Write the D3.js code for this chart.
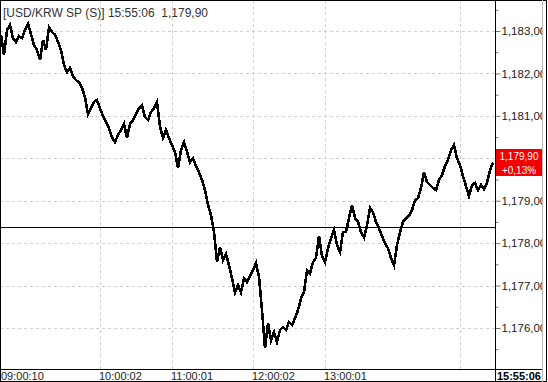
<!DOCTYPE html>
<html>
<head>
<meta charset="utf-8">
<script src="https://cdn.jsdelivr.net/npm/d3@7"></script>
<style>
  html, body { margin: 0; padding: 0; background: #fff; }
  text { font-family: "Liberation Sans", Arial, sans-serif; }
</style>
</head>
<body>
<div id="container"></div>
<script>
// chart data
symbol = "[USD/KRW SP (S)]";
lastTime = "15:55:06";
lastPrice = 1179.9;
prevClose = 1178.37;

priceTicks = [1176, 1177, 1178, 1179, 1180, 1181, 1182, 1183];
timeTickIndex = [0, 33, 57, 84, 108, 153];
timeTickLabels = ["09:00:10", "10:00:02", "11:00:01", "12:00:02", "13:00:01", ""];

prices = [
  1182.91, 1182.43, 1183.02, 1183.14, 1182.83, 1182.74, 1182.88, 1182.83, 1183.02, 1183.17,
  1182.93, 1182.67, 1182.55, 1182.32, 1182.79, 1182.55, 1183.09, 1182.98, 1182.91, 1182.74,
  1182.55, 1182.20, 1182.03, 1182.13, 1181.94, 1181.84, 1181.80, 1181.66, 1181.44, 1181.04,
  1181.18, 1181.33, 1181.37, 1181.18, 1181.00, 1180.85, 1180.71, 1180.50, 1180.38, 1180.55,
  1180.67, 1180.81, 1180.48, 1180.81, 1180.90, 1181.04, 1181.18, 1181.25, 1180.97, 1180.90,
  1181.09, 1181.18, 1181.33, 1180.74, 1180.48, 1180.67, 1180.48, 1180.31, 1180.15, 1179.77,
  1180.19, 1180.38, 1180.15, 1179.91, 1180.00, 1179.82, 1179.67, 1179.49, 1179.25, 1178.90,
  1178.66, 1178.26, 1177.55, 1177.91, 1177.60, 1177.74, 1177.48, 1177.17, 1176.84, 1177.01,
  1176.84, 1177.17, 1177.08, 1177.22, 1177.36, 1177.53, 1177.20, 1176.42, 1175.52, 1176.11,
  1175.71, 1175.90, 1175.67, 1175.95, 1176.02, 1175.95, 1176.14, 1176.07, 1176.23, 1176.42,
  1176.70, 1176.84, 1177.36, 1177.29, 1177.55, 1177.65, 1178.17, 1177.69, 1177.55, 1177.88,
  1178.12, 1178.31, 1177.95, 1177.79, 1178.26, 1178.26, 1178.59, 1178.90, 1178.59, 1178.50,
  1178.26, 1178.14, 1178.42, 1178.83, 1178.73, 1178.50, 1178.35, 1178.17, 1178.00, 1177.88,
  1177.65, 1177.48, 1177.95, 1178.26, 1178.50, 1178.59, 1178.64, 1178.78, 1179.01, 1179.06,
  1179.30, 1179.67, 1179.44, 1179.37, 1179.30, 1179.25, 1179.49, 1179.60, 1179.82, 1179.96,
  1180.19, 1180.31, 1180.00, 1179.84, 1179.58, 1179.34, 1179.11, 1179.37, 1179.42, 1179.25,
  1179.37, 1179.27, 1179.42, 1179.72, 1179.90
];

width = 548;
height = 382;
plotRight = 495;
plotBottom = 369;
frameRight = 542;

// number with comma as decimal mark, e.g. 1,179,90
function fmtPrice(v) {
  return d3.format(",.2f")(v).replace(/\.(\d+)$/, ",$1");
}

window.onload = function() {
  var svg = d3
    .select("#container")
    .append("svg")
    .attr("width", width)
    .attr("height", height)
    .style("display", "block");

  var x = d3.scaleLinear().domain([0, prices.length - 1]).range([1, plotRight - 2]);
  var y = d3.scaleLinear().domain([1176, 1183]).range([328, 31]);
  var by = Math.round(y(lastPrice));

  // grid
  var grid = svg.append("g");
  grid
    .selectAll("line.h")
    .data(priceTicks)
    .enter()
    .append("line")
    .attr("x1", 0)
    .attr("x2", plotRight)
    .attr("y1", d => Math.round(y(d)) + 0.5)
    .attr("y2", d => Math.round(y(d)) + 0.5)
    .style("stroke", "#d0d0d0")
    .style("stroke-dasharray", "3,3");

  grid
    .selectAll("line.v")
    .data(timeTickIndex.slice(1))
    .enter()
    .append("line")
    .attr("x1", d => Math.round(x(d)) + 0.5)
    .attr("x2", d => Math.round(x(d)) + 0.5)
    .attr("y1", 0)
    .attr("y2", plotBottom)
    .style("stroke", "#d0d0d0")
    .style("stroke-dasharray", "3,3");

  // previous close line
  svg
    .append("line")
    .attr("x1", 0)
    .attr("x2", plotRight)
    .attr("y1", Math.round(y(prevClose)) + 0.5)
    .attr("y2", Math.round(y(prevClose)) + 0.5)
    .style("stroke", "#000")
    .style("stroke-width", 1);

  // price line
  var line = d3
    .line()
    .x((d, i) => x(i))
    .y(d => y(d));

  svg
    .append("path")
    .datum(prices)
    .attr("d", line)
    .style("fill", "none")
    .style("stroke", "#000")
    .style("stroke-width", 2.6)
    .style("shape-rendering", "crispEdges")
    .style("stroke-linejoin", "miter");

  // title
  svg
    .append("text")
    .attr("x", 3)
    .attr("y", 17)
    .attr("xml:space", "preserve")
    .style("white-space", "pre")
    .style("font-size", "12px")
    .style("fill", "#333")
    .text(symbol + " " + lastTime + "  " + fmtPrice(lastPrice));

  // frame
  svg
    .append("rect")
    .attr("x", 0.5)
    .attr("y", 0.5)
    .attr("width", width - 2)
    .attr("height", height - 1)
    .style("fill", "none")
    .style("stroke", "#000");
  svg
    .append("line")
    .attr("x1", frameRight + 0.5)
    .attr("x2", frameRight + 0.5)
    .attr("y1", 0)
    .attr("y2", height)
    .style("stroke", "#bbb");

  // right axis, labels cut at the frame
  svg
    .append("clipPath")
    .attr("id", "axisclip")
    .append("rect")
    .attr("x", plotRight)
    .attr("y", 0)
    .attr("width", frameRight - plotRight)
    .attr("height", height);

  // labels under the price badge are hidden anyway
  var yAxis = d3
    .axisRight(y)
    .tickValues(d3.range(1175.5, 1183.6, 0.5))
    .tickSize(4)
    .tickFormat(d => (d % 1 === 0 && Math.abs(y(d) - by) > 16 ? fmtPrice(d) : ""));

  var ax = svg
    .append("g")
    .attr("clip-path", "url(#axisclip)")
    .append("g")
    .attr("transform", "translate(" + (plotRight + 0.5) + ",0)")
    .call(yAxis);
  ax.select(".domain").remove();
  ax.selectAll("line")
    .style("stroke", "#777")
    .attr("x2", d => (d % 1 === 0 ? 5 : 3));
  ax.selectAll("text")
    .attr("x", 6)
    .style("font-family", "Liberation Sans, Arial, sans-serif")
    .style("font-size", "11.5px")
    .style("fill", "#222");

  // axis lines
  svg
    .append("line")
    .attr("x1", plotRight + 0.5)
    .attr("x2", plotRight + 0.5)
    .attr("y1", 0)
    .attr("y2", height)
    .style("stroke", "#000");
  svg
    .append("line")
    .attr("x1", 0)
    .attr("x2", frameRight)
    .attr("y1", plotBottom + 0.5)
    .attr("y2", plotBottom + 0.5)
    .style("stroke", "#000");

  // time labels
  svg
    .append("g")
    .selectAll("text")
    .data(timeTickIndex)
    .enter()
    .append("text")
    .attr("x", d => Math.max(1, Math.round(x(d)) - 1))
    .attr("y", 380)
    .style("font-size", "11px")
    .style("fill", "#222")
    .text((d, i) => timeTickLabels[i]);

  svg
    .append("text")
    .attr("x", frameRight - 1)
    .attr("y", 380)
    .attr("text-anchor", "end")
    .style("font-size", "11px")
    .style("font-weight", "bold")
    .style("fill", "#000")
    .text(lastTime);

  // last price badge
  svg
    .append("rect")
    .attr("x", plotRight + 1)
    .attr("y", by - 14)
    .attr("width", frameRight - plotRight - 1)
    .attr("height", 27)
    .style("fill", "#f20000");
  svg
    .append("text")
    .attr("x", 519)
    .attr("y", by - 3)
    .attr("text-anchor", "middle")
    .style("font-size", "10px")
    .style("fill", "#fff")
    .text(fmtPrice(lastPrice));
  svg
    .append("text")
    .attr("x", 519)
    .attr("y", by + 10.5)
    .attr("text-anchor", "middle")
    .style("font-size", "10px")
    .style("fill", "#fff")
    .text("+" + d3.format(".2f")((lastPrice / prevClose - 1) * 100).replace(".", ",") + "%");
};
</script>
</body>
</html>
